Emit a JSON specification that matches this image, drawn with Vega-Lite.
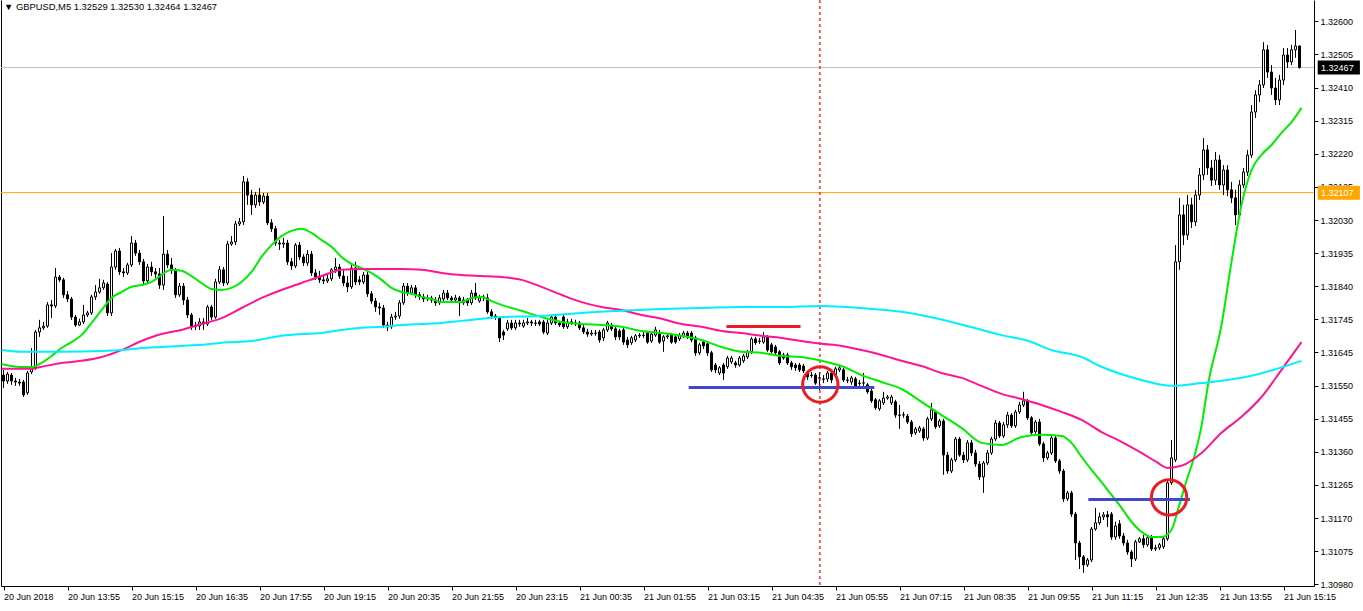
{
"$schema": "https://vega.github.io/schema/vega-lite/v6.json",
"width": 1313, "height": 586,
"autosize": "none",
"padding": {"left": 1, "top": 0, "right": 49, "bottom": 25},
"background": "white",
"title": {"text": "▼ GBPUSD,M5  1.32529 1.32530 1.32464 1.32467", "anchor": "start", "frame": "group", "offset": -13, "dx": 3, "fontSize": 9.4, "font": "Liberation Sans", "fontWeight": "normal", "color": "black"},
"config": {"view": {"stroke": null}, "font": "Liberation Sans",
  "axis": {"labelFont": "Liberation Sans", "labelFontSize": 9, "labelColor": "black", "domainColor": "black", "tickColor": "black", "grid": false}},
"datasets": {
"candles": [
{"i":0,"o":1.31582,"h":1.31597,"l":1.31545,"c":1.31565},{"i":1,"o":1.31565,"h":1.31591,"l":1.31557,"c":1.31585},{"i":2,"o":1.31582,"h":1.31588,"l":1.31554,"c":1.31565},{"i":3,"o":1.31565,"h":1.31574,"l":1.31551,"c":1.31562},{"i":4,"o":1.31562,"h":1.31571,"l":1.31551,"c":1.31559},
{"i":5,"o":1.31562,"h":1.31568,"l":1.31519,"c":1.31525},{"i":6,"o":1.31531,"h":1.31594,"l":1.31525,"c":1.31588},{"i":7,"o":1.31591,"h":1.31660,"l":1.31585,"c":1.31606},{"i":8,"o":1.31603,"h":1.31712,"l":1.31597,"c":1.31706},{"i":9,"o":1.31706,"h":1.31741,"l":1.31692,"c":1.31718},
{"i":10,"o":1.31718,"h":1.31735,"l":1.31712,"c":1.31723},{"i":11,"o":1.31723,"h":1.31792,"l":1.31718,"c":1.31784},{"i":12,"o":1.31784,"h":1.31798,"l":1.31746,"c":1.31781},{"i":13,"o":1.31781,"h":1.31890,"l":1.31775,"c":1.31864},{"i":14,"o":1.31864,"h":1.31870,"l":1.31850,"c":1.31856},
{"i":15,"o":1.31856,"h":1.31862,"l":1.31804,"c":1.31813},{"i":16,"o":1.31813,"h":1.31824,"l":1.31792,"c":1.31801},{"i":17,"o":1.31801,"h":1.31807,"l":1.31741,"c":1.31749},{"i":18,"o":1.31749,"h":1.31755,"l":1.31721,"c":1.31726},{"i":19,"o":1.31726,"h":1.31744,"l":1.31723,"c":1.31735},
{"i":20,"o":1.31735,"h":1.31784,"l":1.31729,"c":1.31755},{"i":21,"o":1.31755,"h":1.31767,"l":1.31749,"c":1.31761},{"i":22,"o":1.31761,"h":1.31813,"l":1.31755,"c":1.31807},{"i":23,"o":1.31807,"h":1.31841,"l":1.31798,"c":1.31821},{"i":24,"o":1.31821,"h":1.31859,"l":1.31816,"c":1.31833},
{"i":25,"o":1.31833,"h":1.31856,"l":1.31827,"c":1.31847},{"i":26,"o":1.31844,"h":1.31850,"l":1.31752,"c":1.31761},{"i":27,"o":1.31761,"h":1.31933,"l":1.31752,"c":1.31893},{"i":28,"o":1.31893,"h":1.31945,"l":1.31885,"c":1.31939},{"i":29,"o":1.31939,"h":1.31948,"l":1.31870,"c":1.31879},
{"i":30,"o":1.31879,"h":1.31890,"l":1.31864,"c":1.31876},{"i":31,"o":1.31876,"h":1.31905,"l":1.31870,"c":1.31899},{"i":32,"o":1.31899,"h":1.31982,"l":1.31893,"c":1.31962},{"i":33,"o":1.31962,"h":1.31971,"l":1.31925,"c":1.31933},{"i":34,"o":1.31933,"h":1.31942,"l":1.31899,"c":1.31908},
{"i":35,"o":1.31908,"h":1.31916,"l":1.31844,"c":1.31853},{"i":36,"o":1.31853,"h":1.31902,"l":1.31844,"c":1.31893},{"i":37,"o":1.31893,"h":1.31908,"l":1.31867,"c":1.31879},{"i":38,"o":1.31879,"h":1.31890,"l":1.31862,"c":1.31873},{"i":39,"o":1.31873,"h":1.31890,"l":1.31830,"c":1.31841},
{"i":40,"o":1.31841,"h":1.32040,"l":1.31827,"c":1.31930},{"i":41,"o":1.31930,"h":1.31942,"l":1.31890,"c":1.31899},{"i":42,"o":1.31899,"h":1.31919,"l":1.31873,"c":1.31885},{"i":43,"o":1.31885,"h":1.31890,"l":1.31804,"c":1.31813},{"i":44,"o":1.31813,"h":1.31847,"l":1.31807,"c":1.31838},
{"i":45,"o":1.31838,"h":1.31847,"l":1.31784,"c":1.31798},{"i":46,"o":1.31798,"h":1.31807,"l":1.31746,"c":1.31755},{"i":47,"o":1.31755,"h":1.31761,"l":1.31712,"c":1.31721},{"i":48,"o":1.31721,"h":1.31735,"l":1.31712,"c":1.31723},{"i":49,"o":1.31723,"h":1.31746,"l":1.31712,"c":1.31735},
{"i":50,"o":1.31735,"h":1.31746,"l":1.31712,"c":1.31729},{"i":51,"o":1.31729,"h":1.31784,"l":1.31723,"c":1.31778},{"i":52,"o":1.31778,"h":1.31784,"l":1.31741,"c":1.31749},{"i":53,"o":1.31749,"h":1.31859,"l":1.31744,"c":1.31850},{"i":54,"o":1.31850,"h":1.31896,"l":1.31844,"c":1.31885},
{"i":55,"o":1.31885,"h":1.31893,"l":1.31838,"c":1.31847},{"i":56,"o":1.31847,"h":1.31968,"l":1.31841,"c":1.31959},{"i":57,"o":1.31959,"h":1.31982,"l":1.31954,"c":1.31965},{"i":58,"o":1.31965,"h":1.32026,"l":1.31956,"c":1.32017},{"i":59,"o":1.32017,"h":1.32034,"l":1.32011,"c":1.32023},
{"i":60,"o":1.32023,"h":1.32155,"l":1.32014,"c":1.32138},{"i":61,"o":1.32138,"h":1.32149,"l":1.32072,"c":1.32100},{"i":62,"o":1.32100,"h":1.32115,"l":1.32043,"c":1.32072},{"i":63,"o":1.32072,"h":1.32109,"l":1.32063,"c":1.32100},{"i":64,"o":1.32100,"h":1.32120,"l":1.32069,"c":1.32080},
{"i":65,"o":1.32080,"h":1.32106,"l":1.32074,"c":1.32097},{"i":66,"o":1.32097,"h":1.32106,"l":1.32014,"c":1.32020},{"i":67,"o":1.32020,"h":1.32031,"l":1.31994,"c":1.32003},{"i":68,"o":1.32003,"h":1.32011,"l":1.31954,"c":1.31962},{"i":69,"o":1.31962,"h":1.31971,"l":1.31942,"c":1.31959},
{"i":70,"o":1.31959,"h":1.31977,"l":1.31948,"c":1.31962},{"i":71,"o":1.31962,"h":1.31971,"l":1.31899,"c":1.31908},{"i":72,"o":1.31908,"h":1.31919,"l":1.31885,"c":1.31896},{"i":73,"o":1.31896,"h":1.31962,"l":1.31890,"c":1.31956},{"i":74,"o":1.31956,"h":1.31965,"l":1.31913,"c":1.31922},
{"i":75,"o":1.31922,"h":1.31930,"l":1.31896,"c":1.31905},{"i":76,"o":1.31905,"h":1.31942,"l":1.31896,"c":1.31930},{"i":77,"o":1.31930,"h":1.31939,"l":1.31867,"c":1.31876},{"i":78,"o":1.31876,"h":1.31887,"l":1.31856,"c":1.31864},{"i":79,"o":1.31864,"h":1.31882,"l":1.31847,"c":1.31856},
{"i":80,"o":1.31856,"h":1.31867,"l":1.31844,"c":1.31853},{"i":81,"o":1.31853,"h":1.31870,"l":1.31847,"c":1.31859},{"i":82,"o":1.31859,"h":1.31890,"l":1.31853,"c":1.31885},{"i":83,"o":1.31885,"h":1.31919,"l":1.31876,"c":1.31893},{"i":84,"o":1.31893,"h":1.31902,"l":1.31859,"c":1.31867},
{"i":85,"o":1.31867,"h":1.31885,"l":1.31838,"c":1.31847},{"i":86,"o":1.31847,"h":1.31867,"l":1.31821,"c":1.31836},{"i":87,"o":1.31836,"h":1.31899,"l":1.31830,"c":1.31890},{"i":88,"o":1.31890,"h":1.31908,"l":1.31841,"c":1.31850},{"i":89,"o":1.31856,"h":1.31867,"l":1.31841,"c":1.31850},
{"i":90,"o":1.31850,"h":1.31879,"l":1.31844,"c":1.31870},{"i":91,"o":1.31870,"h":1.31879,"l":1.31807,"c":1.31816},{"i":92,"o":1.31816,"h":1.31824,"l":1.31787,"c":1.31795},{"i":93,"o":1.31795,"h":1.31804,"l":1.31764,"c":1.31778},{"i":94,"o":1.31778,"h":1.31790,"l":1.31755,"c":1.31775},
{"i":95,"o":1.31775,"h":1.31784,"l":1.31718,"c":1.31726},{"i":96,"o":1.31726,"h":1.31735,"l":1.31709,"c":1.31721},{"i":97,"o":1.31721,"h":1.31758,"l":1.31715,"c":1.31749},{"i":98,"o":1.31749,"h":1.31764,"l":1.31741,"c":1.31752},{"i":99,"o":1.31752,"h":1.31798,"l":1.31744,"c":1.31790},
{"i":100,"o":1.31790,"h":1.31847,"l":1.31784,"c":1.31838},{"i":101,"o":1.31838,"h":1.31847,"l":1.31810,"c":1.31818},{"i":102,"o":1.31818,"h":1.31841,"l":1.31813,"c":1.31833},{"i":103,"o":1.31833,"h":1.31841,"l":1.31804,"c":1.31813},{"i":104,"o":1.31813,"h":1.31821,"l":1.31798,"c":1.31807},
{"i":105,"o":1.31807,"h":1.31816,"l":1.31792,"c":1.31801},{"i":106,"o":1.31801,"h":1.31813,"l":1.31795,"c":1.31804},{"i":107,"o":1.31804,"h":1.31810,"l":1.31790,"c":1.31798},{"i":108,"o":1.31798,"h":1.31807,"l":1.31781,"c":1.31790},{"i":109,"o":1.31790,"h":1.31813,"l":1.31784,"c":1.31804},
{"i":110,"o":1.31801,"h":1.31827,"l":1.31795,"c":1.31818},{"i":111,"o":1.31818,"h":1.31827,"l":1.31798,"c":1.31804},{"i":112,"o":1.31804,"h":1.31810,"l":1.31790,"c":1.31798},{"i":113,"o":1.31798,"h":1.31813,"l":1.31792,"c":1.31804},{"i":114,"o":1.31804,"h":1.31810,"l":1.31752,"c":1.31790},
{"i":115,"o":1.31790,"h":1.31807,"l":1.31784,"c":1.31798},{"i":116,"o":1.31798,"h":1.31804,"l":1.31781,"c":1.31790},{"i":117,"o":1.31790,"h":1.31827,"l":1.31784,"c":1.31818},{"i":118,"o":1.31818,"h":1.31847,"l":1.31798,"c":1.31804},{"i":119,"o":1.31795,"h":1.31813,"l":1.31790,"c":1.31804},
{"i":120,"o":1.31804,"h":1.31813,"l":1.31795,"c":1.31807},{"i":121,"o":1.31804,"h":1.31816,"l":1.31758,"c":1.31764},{"i":122,"o":1.31764,"h":1.31772,"l":1.31744,"c":1.31752},{"i":123,"o":1.31752,"h":1.31758,"l":1.31741,"c":1.31749},{"i":124,"o":1.31746,"h":1.31752,"l":1.31677,"c":1.31689},
{"i":125,"o":1.31706,"h":1.31712,"l":1.31683,"c":1.31697},{"i":126,"o":1.31715,"h":1.31741,"l":1.31709,"c":1.31732},{"i":127,"o":1.31732,"h":1.31741,"l":1.31712,"c":1.31718},{"i":128,"o":1.31718,"h":1.31741,"l":1.31712,"c":1.31732},{"i":129,"o":1.31732,"h":1.31741,"l":1.31721,"c":1.31729},
{"i":130,"o":1.31723,"h":1.31741,"l":1.31718,"c":1.31732},{"i":131,"o":1.31732,"h":1.31746,"l":1.31726,"c":1.31735},{"i":132,"o":1.31735,"h":1.31741,"l":1.31723,"c":1.31732},{"i":133,"o":1.31732,"h":1.31741,"l":1.31723,"c":1.31731},{"i":134,"o":1.31735,"h":1.31741,"l":1.31723,"c":1.31729},
{"i":135,"o":1.31735,"h":1.31741,"l":1.31700,"c":1.31706},{"i":136,"o":1.31703,"h":1.31741,"l":1.31697,"c":1.31732},{"i":137,"o":1.31732,"h":1.31755,"l":1.31726,"c":1.31749},{"i":138,"o":1.31749,"h":1.31755,"l":1.31726,"c":1.31732},{"i":139,"o":1.31732,"h":1.31738,"l":1.31721,"c":1.31726},
{"i":140,"o":1.31749,"h":1.31755,"l":1.31715,"c":1.31721},{"i":141,"o":1.31721,"h":1.31744,"l":1.31715,"c":1.31735},{"i":142,"o":1.31735,"h":1.31744,"l":1.31726,"c":1.31732},{"i":143,"o":1.31732,"h":1.31741,"l":1.31723,"c":1.31731},{"i":144,"o":1.31732,"h":1.31738,"l":1.31712,"c":1.31718},
{"i":145,"o":1.31718,"h":1.31726,"l":1.31700,"c":1.31706},{"i":146,"o":1.31706,"h":1.31715,"l":1.31692,"c":1.31700},{"i":147,"o":1.31700,"h":1.31712,"l":1.31695,"c":1.31703},{"i":148,"o":1.31703,"h":1.31712,"l":1.31695,"c":1.31702},{"i":149,"o":1.31706,"h":1.31712,"l":1.31675,"c":1.31683},
{"i":150,"o":1.31689,"h":1.31718,"l":1.31680,"c":1.31712},{"i":151,"o":1.31712,"h":1.31738,"l":1.31706,"c":1.31732},{"i":152,"o":1.31726,"h":1.31732,"l":1.31709,"c":1.31715},{"i":153,"o":1.31715,"h":1.31721,"l":1.31683,"c":1.31692},{"i":154,"o":1.31709,"h":1.31715,"l":1.31683,"c":1.31692},
{"i":155,"o":1.31712,"h":1.31718,"l":1.31669,"c":1.31677},{"i":156,"o":1.31683,"h":1.31692,"l":1.31660,"c":1.31669},{"i":157,"o":1.31675,"h":1.31695,"l":1.31669,"c":1.31689},{"i":158,"o":1.31683,"h":1.31700,"l":1.31677,"c":1.31695},{"i":159,"o":1.31695,"h":1.31703,"l":1.31689,"c":1.31697},
{"i":160,"o":1.31697,"h":1.31706,"l":1.31689,"c":1.31696},{"i":161,"o":1.31703,"h":1.31709,"l":1.31672,"c":1.31677},{"i":162,"o":1.31680,"h":1.31706,"l":1.31675,"c":1.31700},{"i":163,"o":1.31697,"h":1.31721,"l":1.31692,"c":1.31712},{"i":164,"o":1.31703,"h":1.31712,"l":1.31672,"c":1.31677},
{"i":165,"o":1.31680,"h":1.31697,"l":1.31649,"c":1.31692},{"i":166,"o":1.31692,"h":1.31700,"l":1.31686,"c":1.31695},{"i":167,"o":1.31697,"h":1.31703,"l":1.31672,"c":1.31677},{"i":168,"o":1.31692,"h":1.31697,"l":1.31672,"c":1.31677},{"i":169,"o":1.31686,"h":1.31703,"l":1.31680,"c":1.31697},
{"i":170,"o":1.31695,"h":1.31709,"l":1.31689,"c":1.31703},{"i":171,"o":1.31703,"h":1.31709,"l":1.31686,"c":1.31692},{"i":172,"o":1.31703,"h":1.31709,"l":1.31677,"c":1.31683},{"i":173,"o":1.31689,"h":1.31695,"l":1.31637,"c":1.31646},{"i":174,"o":1.31646,"h":1.31675,"l":1.31640,"c":1.31669},
{"i":175,"o":1.31677,"h":1.31683,"l":1.31657,"c":1.31666},{"i":176,"o":1.31672,"h":1.31677,"l":1.31637,"c":1.31646},{"i":177,"o":1.31646,"h":1.31652,"l":1.31591,"c":1.31597},{"i":178,"o":1.31611,"h":1.31617,"l":1.31588,"c":1.31597},{"i":179,"o":1.31588,"h":1.31608,"l":1.31582,"c":1.31603},
{"i":180,"o":1.31611,"h":1.31617,"l":1.31568,"c":1.31588},{"i":181,"o":1.31606,"h":1.31637,"l":1.31600,"c":1.31631},{"i":182,"o":1.31620,"h":1.31637,"l":1.31614,"c":1.31631},{"i":183,"o":1.31617,"h":1.31623,"l":1.31603,"c":1.31611},{"i":184,"o":1.31611,"h":1.31637,"l":1.31606,"c":1.31631},
{"i":185,"o":1.31623,"h":1.31643,"l":1.31617,"c":1.31637},{"i":186,"o":1.31634,"h":1.31654,"l":1.31628,"c":1.31649},{"i":187,"o":1.31649,"h":1.31692,"l":1.31643,"c":1.31686},{"i":188,"o":1.31686,"h":1.31692,"l":1.31669,"c":1.31675},{"i":189,"o":1.31680,"h":1.31689,"l":1.31672,"c":1.31679},
{"i":190,"o":1.31677,"h":1.31706,"l":1.31672,"c":1.31692},{"i":191,"o":1.31692,"h":1.31697,"l":1.31649,"c":1.31654},{"i":192,"o":1.31669,"h":1.31675,"l":1.31643,"c":1.31649},{"i":193,"o":1.31663,"h":1.31669,"l":1.31640,"c":1.31646},{"i":194,"o":1.31649,"h":1.31654,"l":1.31611,"c":1.31617},
{"i":195,"o":1.31640,"h":1.31646,"l":1.31626,"c":1.31631},{"i":196,"o":1.31640,"h":1.31646,"l":1.31611,"c":1.31617},{"i":197,"o":1.31617,"h":1.31623,"l":1.31597,"c":1.31606},{"i":198,"o":1.31611,"h":1.31617,"l":1.31594,"c":1.31603},{"i":199,"o":1.31611,"h":1.31617,"l":1.31591,"c":1.31597},
{"i":200,"o":1.31608,"h":1.31614,"l":1.31588,"c":1.31594},{"i":201,"o":1.31588,"h":1.31594,"l":1.31568,"c":1.31577},{"i":202,"o":1.31582,"h":1.31591,"l":1.31574,"c":1.31581},{"i":203,"o":1.31582,"h":1.31588,"l":1.31554,"c":1.31559},{"i":204,"o":1.31574,"h":1.31591,"l":1.31539,"c":1.31573},
{"i":205,"o":1.31571,"h":1.31582,"l":1.31559,"c":1.31570},{"i":206,"o":1.31571,"h":1.31594,"l":1.31562,"c":1.31588},{"i":207,"o":1.31588,"h":1.31597,"l":1.31559,"c":1.31568},{"i":208,"o":1.31582,"h":1.31606,"l":1.31574,"c":1.31600},{"i":209,"o":1.31597,"h":1.31608,"l":1.31591,"c":1.31603},
{"i":210,"o":1.31597,"h":1.31603,"l":1.31562,"c":1.31568},{"i":211,"o":1.31568,"h":1.31577,"l":1.31559,"c":1.31567},{"i":212,"o":1.31562,"h":1.31580,"l":1.31554,"c":1.31574},{"i":213,"o":1.31571,"h":1.31577,"l":1.31542,"c":1.31548},{"i":214,"o":1.31559,"h":1.31568,"l":1.31551,"c":1.31558},
{"i":215,"o":1.31559,"h":1.31588,"l":1.31551,"c":1.31560},{"i":216,"o":1.31554,"h":1.31559,"l":1.31528,"c":1.31534},{"i":217,"o":1.31536,"h":1.31542,"l":1.31502,"c":1.31508},{"i":218,"o":1.31511,"h":1.31516,"l":1.31482,"c":1.31488},{"i":219,"o":1.31485,"h":1.31513,"l":1.31479,"c":1.31508},
{"i":220,"o":1.31502,"h":1.31534,"l":1.31496,"c":1.31516},{"i":221,"o":1.31516,"h":1.31525,"l":1.31511,"c":1.31519},{"i":222,"o":1.31502,"h":1.31525,"l":1.31496,"c":1.31519},{"i":223,"o":1.31505,"h":1.31511,"l":1.31459,"c":1.31467},{"i":224,"o":1.31467,"h":1.31496,"l":1.31427,"c":1.31466},
{"i":225,"o":1.31467,"h":1.31476,"l":1.31459,"c":1.31468},{"i":226,"o":1.31464,"h":1.31470,"l":1.31441,"c":1.31447},{"i":227,"o":1.31447,"h":1.31453,"l":1.31404,"c":1.31413},{"i":228,"o":1.31416,"h":1.31433,"l":1.31410,"c":1.31427},{"i":229,"o":1.31421,"h":1.31436,"l":1.31416,"c":1.31430},
{"i":230,"o":1.31427,"h":1.31433,"l":1.31393,"c":1.31401},{"i":231,"o":1.31401,"h":1.31462,"l":1.31395,"c":1.31456},{"i":232,"o":1.31456,"h":1.31502,"l":1.31450,"c":1.31482},{"i":233,"o":1.31476,"h":1.31482,"l":1.31427,"c":1.31433},{"i":234,"o":1.31436,"h":1.31456,"l":1.31430,"c":1.31450},
{"i":235,"o":1.31450,"h":1.31456,"l":1.31295,"c":1.31352},{"i":236,"o":1.31352,"h":1.31361,"l":1.31298,"c":1.31306},{"i":237,"o":1.31306,"h":1.31344,"l":1.31300,"c":1.31338},{"i":238,"o":1.31338,"h":1.31404,"l":1.31332,"c":1.31398},{"i":239,"o":1.31398,"h":1.31404,"l":1.31347,"c":1.31352},
{"i":240,"o":1.31352,"h":1.31361,"l":1.31329,"c":1.31338},{"i":241,"o":1.31338,"h":1.31395,"l":1.31332,"c":1.31387},{"i":242,"o":1.31387,"h":1.31395,"l":1.31349,"c":1.31358},{"i":243,"o":1.31358,"h":1.31367,"l":1.31318,"c":1.31326},{"i":244,"o":1.31326,"h":1.31335,"l":1.31280,"c":1.31289},
{"i":245,"o":1.31289,"h":1.31335,"l":1.31243,"c":1.31329},{"i":246,"o":1.31329,"h":1.31367,"l":1.31323,"c":1.31358},{"i":247,"o":1.31358,"h":1.31404,"l":1.31352,"c":1.31398},{"i":248,"o":1.31398,"h":1.31453,"l":1.31392,"c":1.31444},{"i":249,"o":1.31444,"h":1.31450,"l":1.31401,"c":1.31407},
{"i":250,"o":1.31407,"h":1.31447,"l":1.31401,"c":1.31439},{"i":251,"o":1.31439,"h":1.31476,"l":1.31430,"c":1.31467},{"i":252,"o":1.31467,"h":1.31473,"l":1.31430,"c":1.31436},{"i":253,"o":1.31436,"h":1.31482,"l":1.31430,"c":1.31476},{"i":254,"o":1.31476,"h":1.31505,"l":1.31470,"c":1.31496},
{"i":255,"o":1.31496,"h":1.31534,"l":1.31490,"c":1.31508},{"i":256,"o":1.31508,"h":1.31513,"l":1.31453,"c":1.31459},{"i":257,"o":1.31459,"h":1.31464,"l":1.31410,"c":1.31416},{"i":258,"o":1.31419,"h":1.31453,"l":1.31413,"c":1.31447},{"i":259,"o":1.31447,"h":1.31456,"l":1.31378,"c":1.31384},
{"i":260,"o":1.31384,"h":1.31390,"l":1.31332,"c":1.31344},{"i":261,"o":1.31344,"h":1.31364,"l":1.31338,"c":1.31358},{"i":262,"o":1.31358,"h":1.31407,"l":1.31352,"c":1.31401},{"i":263,"o":1.31401,"h":1.31407,"l":1.31329,"c":1.31335},{"i":264,"o":1.31335,"h":1.31341,"l":1.31298,"c":1.31306},
{"i":265,"o":1.31306,"h":1.31312,"l":1.31217,"c":1.31226},{"i":266,"o":1.31226,"h":1.31249,"l":1.31220,"c":1.31243},{"i":267,"o":1.31243,"h":1.31249,"l":1.31174,"c":1.31182},{"i":268,"o":1.31182,"h":1.31188,"l":1.31050,"c":1.31099},{"i":269,"o":1.31099,"h":1.31105,"l":1.31024,"c":1.31059},
{"i":270,"o":1.31059,"h":1.31064,"l":1.31013,"c":1.31036},{"i":271,"o":1.31036,"h":1.31056,"l":1.31030,"c":1.31050},{"i":272,"o":1.31050,"h":1.31145,"l":1.31044,"c":1.31139},{"i":273,"o":1.31139,"h":1.31200,"l":1.31134,"c":1.31157},{"i":274,"o":1.31157,"h":1.31186,"l":1.31151,"c":1.31174},
{"i":275,"o":1.31174,"h":1.31188,"l":1.31165,"c":1.31180},{"i":276,"o":1.31180,"h":1.31191,"l":1.31145,"c":1.31174},{"i":277,"o":1.31182,"h":1.31188,"l":1.31108,"c":1.31116},{"i":278,"o":1.31116,"h":1.31160,"l":1.31108,"c":1.31148},{"i":279,"o":1.31154,"h":1.31165,"l":1.31111,"c":1.31119},
{"i":280,"o":1.31119,"h":1.31128,"l":1.31091,"c":1.31099},{"i":281,"o":1.31099,"h":1.31108,"l":1.31065,"c":1.31073},{"i":282,"o":1.31073,"h":1.31079,"l":1.31030,"c":1.31053},{"i":283,"o":1.31053,"h":1.31108,"l":1.31047,"c":1.31102},{"i":284,"o":1.31102,"h":1.31116,"l":1.31099,"c":1.31111},
{"i":285,"o":1.31111,"h":1.31122,"l":1.31085,"c":1.31094},{"i":286,"o":1.31094,"h":1.31119,"l":1.31088,"c":1.31114},{"i":287,"o":1.31114,"h":1.31122,"l":1.31076,"c":1.31082},{"i":288,"o":1.31082,"h":1.31094,"l":1.31076,"c":1.31085},{"i":289,"o":1.31085,"h":1.31099,"l":1.31079,"c":1.31094},
{"i":290,"o":1.31088,"h":1.31116,"l":1.31082,"c":1.31111},{"i":291,"o":1.31111,"h":1.31280,"l":1.31105,"c":1.31272},{"i":292,"o":1.31272,"h":1.31395,"l":1.31266,"c":1.31344},{"i":293,"o":1.31338,"h":1.31956,"l":1.31332,"c":1.31908},{"i":294,"o":1.31908,"h":1.32092,"l":1.31885,"c":1.32043},
{"i":295,"o":1.32043,"h":1.32072,"l":1.31956,"c":1.31985},{"i":296,"o":1.31985,"h":1.32100,"l":1.31971,"c":1.32072},{"i":297,"o":1.32072,"h":1.32092,"l":1.32005,"c":1.32023},{"i":298,"o":1.32023,"h":1.32115,"l":1.32011,"c":1.32100},{"i":299,"o":1.32100,"h":1.32178,"l":1.32086,"c":1.32158},
{"i":300,"o":1.32158,"h":1.32264,"l":1.32143,"c":1.32230},{"i":301,"o":1.32230,"h":1.32244,"l":1.32158,"c":1.32178},{"i":302,"o":1.32178,"h":1.32201,"l":1.32126,"c":1.32143},{"i":303,"o":1.32143,"h":1.32224,"l":1.32129,"c":1.32201},{"i":304,"o":1.32201,"h":1.32215,"l":1.32115,"c":1.32129},
{"i":305,"o":1.32129,"h":1.32186,"l":1.32100,"c":1.32172},{"i":306,"o":1.32172,"h":1.32186,"l":1.32097,"c":1.32115},{"i":307,"o":1.32115,"h":1.32138,"l":1.32077,"c":1.32092},{"i":308,"o":1.32092,"h":1.32115,"l":1.32014,"c":1.32043},{"i":309,"o":1.32043,"h":1.32143,"l":1.32034,"c":1.32129},
{"i":310,"o":1.32129,"h":1.32178,"l":1.32120,"c":1.32166},{"i":311,"o":1.32166,"h":1.32230,"l":1.32155,"c":1.32215},{"i":312,"o":1.32215,"h":1.32359,"l":1.32207,"c":1.32339},{"i":313,"o":1.32339,"h":1.32402,"l":1.32322,"c":1.32388},{"i":314,"o":1.32388,"h":1.32431,"l":1.32368,"c":1.32417},
{"i":315,"o":1.32417,"h":1.32540,"l":1.32408,"c":1.32518},{"i":316,"o":1.32518,"h":1.32532,"l":1.32437,"c":1.32454},{"i":317,"o":1.32454,"h":1.32474,"l":1.32388,"c":1.32408},{"i":318,"o":1.32408,"h":1.32437,"l":1.32359,"c":1.32374},{"i":319,"o":1.32374,"h":1.32446,"l":1.32359,"c":1.32431},
{"i":320,"o":1.32431,"h":1.32523,"l":1.32417,"c":1.32503},{"i":321,"o":1.32503,"h":1.32523,"l":1.32466,"c":1.32483},{"i":322,"o":1.32483,"h":1.32532,"l":1.32474,"c":1.32518},{"i":323,"o":1.32518,"h":1.32575,"l":1.32495,"c":1.32529},{"i":324,"o":1.32529,"h":1.32530,"l":1.32464,"c":1.32467}
],
"ma": [
{"s":"g","i":-0.5,"p":1.31614},{"s":"g","i":2,"p":1.31608},{"s":"g","i":4.5,"p":1.31605},{"s":"g","i":7,"p":1.31605},{"s":"g","i":9.5,"p":1.31617},{"s":"g","i":12,"p":1.31637},{"s":"g","i":14.5,"p":1.31660},{"s":"g","i":17,"p":1.31677},{"s":"g","i":19.5,"p":1.31697},{"s":"g","i":22,"p":1.31732},{"s":"g","i":24.5,"p":1.31769},{"s":"g","i":27,"p":1.31804},{"s":"g","i":29.5,"p":1.31821},{"s":"g","i":32,"p":1.31836},{"s":"g","i":34.5,"p":1.31841},{"s":"g","i":37,"p":1.31850},{"s":"g","i":39.5,"p":1.31870},{"s":"g","i":42,"p":1.31885},{"s":"g","i":44.5,"p":1.31882},{"s":"g","i":47,"p":1.31867},{"s":"g","i":49.5,"p":1.31847},{"s":"g","i":52,"p":1.31830},{"s":"g","i":54.5,"p":1.31827},{"s":"g","i":57,"p":1.31833},{"s":"g","i":59.5,"p":1.31850},{"s":"g","i":62,"p":1.31879},{"s":"g","i":64.5,"p":1.31922},{"s":"g","i":67,"p":1.31956},{"s":"g","i":69.5,"p":1.31982},{"s":"g","i":72,"p":1.31997},{"s":"g","i":74.5,"p":1.32003},{"s":"g","i":77,"p":1.31991},{"s":"g","i":79.5,"p":1.31971},{"s":"g","i":82,"p":1.31951},{"s":"g","i":84.5,"p":1.31922},{"s":"g","i":87,"p":1.31902},{"s":"g","i":89.5,"p":1.31890},{"s":"g","i":92,"p":1.31876},{"s":"g","i":94.5,"p":1.31856},{"s":"g","i":97,"p":1.31833},{"s":"g","i":99.5,"p":1.31821},{"s":"g","i":102,"p":1.31816},{"s":"g","i":104.5,"p":1.31807},{"s":"g","i":107,"p":1.31801},{"s":"g","i":109.5,"p":1.31792},{"s":"g","i":112,"p":1.31792},{"s":"g","i":114.5,"p":1.31792},{"s":"g","i":117,"p":1.31804},{"s":"g","i":119.5,"p":1.31807},{"s":"g","i":122,"p":1.31795},{"s":"g","i":124.5,"p":1.31784},{"s":"g","i":129.5,"p":1.31767},{"s":"g","i":134.5,"p":1.31749},{"s":"g","i":139.5,"p":1.31735},{"s":"g","i":144.5,"p":1.31729},{"s":"g","i":149.5,"p":1.31726},{"s":"g","i":154.5,"p":1.31721},{"s":"g","i":159.5,"p":1.31709},{"s":"g","i":164.5,"p":1.31703},{"s":"g","i":169.5,"p":1.31695},{"s":"g","i":174.5,"p":1.31683},{"s":"g","i":179.5,"p":1.31663},{"s":"g","i":184.5,"p":1.31649},{"s":"g","i":189.5,"p":1.31646},{"s":"g","i":194.5,"p":1.31637},{"s":"g","i":199.5,"p":1.31634},{"s":"g","i":204.5,"p":1.31623},{"s":"g","i":209.5,"p":1.31608},{"s":"g","i":214.5,"p":1.31582},{"s":"g","i":219.5,"p":1.31562},{"s":"g","i":224.5,"p":1.31542},{"s":"g","i":229.5,"p":1.31505},{"s":"g","i":234.5,"p":1.31467},{"s":"g","i":239.5,"p":1.31430},{"s":"g","i":244.5,"p":1.31387},{"s":"g","i":249.5,"p":1.31381},{"s":"g","i":254.5,"p":1.31404},{"s":"g","i":259.5,"p":1.31410},{"s":"g","i":264.5,"p":1.31407},{"s":"g","i":267,"p":1.31387},{"s":"g","i":269.5,"p":1.31347},{"s":"g","i":272,"p":1.31309},{"s":"g","i":274.5,"p":1.31274},{"s":"g","i":277,"p":1.31237},{"s":"g","i":279.5,"p":1.31200},{"s":"g","i":282,"p":1.31160},{"s":"g","i":284.5,"p":1.31131},{"s":"g","i":287,"p":1.31116},{"s":"g","i":289.5,"p":1.31116},{"s":"g","i":292,"p":1.31137},{"s":"g","i":293.75,"p":1.31200},{"s":"g","i":295.75,"p":1.31278},{"s":"g","i":297.75,"p":1.31350},{"s":"g","i":299.5,"p":1.31436},{"s":"g","i":301.25,"p":1.31562},{"s":"g","i":304.5,"p":1.31726},{"s":"g","i":307,"p":1.31908},{"s":"g","i":309.5,"p":1.32072},{"s":"g","i":312,"p":1.32172},{"s":"g","i":314.5,"p":1.32216},{"s":"g","i":317,"p":1.32244},{"s":"g","i":319.5,"p":1.32279},{"s":"g","i":322,"p":1.32310},{"s":"g","i":324.5,"p":1.32351},
{"s":"m","i":-0.5,"p":1.31600},{"s":"m","i":7,"p":1.31600},{"s":"m","i":9.5,"p":1.31606},{"s":"m","i":14.5,"p":1.31617},{"s":"m","i":19.5,"p":1.31623},{"s":"m","i":24.5,"p":1.31634},{"s":"m","i":29.5,"p":1.31654},{"s":"m","i":34.5,"p":1.31680},{"s":"m","i":39.5,"p":1.31700},{"s":"m","i":44.5,"p":1.31712},{"s":"m","i":49.5,"p":1.31729},{"s":"m","i":54.5,"p":1.31746},{"s":"m","i":59.5,"p":1.31775},{"s":"m","i":64.5,"p":1.31804},{"s":"m","i":69.5,"p":1.31827},{"s":"m","i":74.5,"p":1.31847},{"s":"m","i":79.5,"p":1.31867},{"s":"m","i":84.5,"p":1.31885},{"s":"m","i":89.5,"p":1.31887},{"s":"m","i":94.5,"p":1.31887},{"s":"m","i":99.5,"p":1.31887},{"s":"m","i":104.5,"p":1.31885},{"s":"m","i":109.5,"p":1.31876},{"s":"m","i":114.5,"p":1.31870},{"s":"m","i":119.5,"p":1.31867},{"s":"m","i":124.5,"p":1.31864},{"s":"m","i":129.5,"p":1.31856},{"s":"m","i":134.5,"p":1.31836},{"s":"m","i":139.5,"p":1.31813},{"s":"m","i":144.5,"p":1.31792},{"s":"m","i":149.5,"p":1.31778},{"s":"m","i":154.5,"p":1.31769},{"s":"m","i":159.5,"p":1.31755},{"s":"m","i":164.5,"p":1.31744},{"s":"m","i":169.5,"p":1.31729},{"s":"m","i":174.5,"p":1.31721},{"s":"m","i":179.5,"p":1.31709},{"s":"m","i":184.5,"p":1.31703},{"s":"m","i":189.5,"p":1.31695},{"s":"m","i":194.5,"p":1.31689},{"s":"m","i":199.5,"p":1.31680},{"s":"m","i":204.5,"p":1.31672},{"s":"m","i":209.5,"p":1.31666},{"s":"m","i":214.5,"p":1.31654},{"s":"m","i":219.5,"p":1.31640},{"s":"m","i":224.5,"p":1.31623},{"s":"m","i":229.5,"p":1.31608},{"s":"m","i":234.5,"p":1.31588},{"s":"m","i":239.5,"p":1.31574},{"s":"m","i":244.5,"p":1.31551},{"s":"m","i":249.5,"p":1.31528},{"s":"m","i":254.5,"p":1.31513},{"s":"m","i":259.5,"p":1.31496},{"s":"m","i":264.5,"p":1.31476},{"s":"m","i":269.5,"p":1.31453},{"s":"m","i":274.5,"p":1.31418},{"s":"m","i":279.5,"p":1.31390},{"s":"m","i":284.5,"p":1.31358},{"s":"m","i":288.25,"p":1.31332},{"s":"m","i":291,"p":1.31315},{"s":"m","i":294.5,"p":1.31321},{"s":"m","i":299.5,"p":1.31358},{"s":"m","i":304.5,"p":1.31416},{"s":"m","i":309.5,"p":1.31462},{"s":"m","i":314.5,"p":1.31519},{"s":"m","i":319.5,"p":1.31597},{"s":"m","i":324.5,"p":1.31677},
{"s":"c","i":-0.5,"p":1.31654},{"s":"c","i":4.5,"p":1.31649},{"s":"c","i":14.5,"p":1.31649},{"s":"c","i":24.5,"p":1.31651},{"s":"c","i":29.5,"p":1.31654},{"s":"c","i":34.5,"p":1.31660},{"s":"c","i":39.5,"p":1.31663},{"s":"c","i":44.5,"p":1.31666},{"s":"c","i":49.5,"p":1.31669},{"s":"c","i":54.5,"p":1.31675},{"s":"c","i":62,"p":1.31680},{"s":"c","i":69.5,"p":1.31695},{"s":"c","i":74.5,"p":1.31700},{"s":"c","i":79.5,"p":1.31703},{"s":"c","i":84.5,"p":1.31712},{"s":"c","i":89.5,"p":1.31718},{"s":"c","i":94.5,"p":1.31721},{"s":"c","i":99.5,"p":1.31726},{"s":"c","i":104.5,"p":1.31729},{"s":"c","i":109.5,"p":1.31732},{"s":"c","i":114.5,"p":1.31738},{"s":"c","i":119.5,"p":1.31744},{"s":"c","i":124.5,"p":1.31749},{"s":"c","i":134.5,"p":1.31752},{"s":"c","i":144.5,"p":1.31761},{"s":"c","i":154.5,"p":1.31767},{"s":"c","i":164.5,"p":1.31772},{"s":"c","i":174.5,"p":1.31775},{"s":"c","i":184.5,"p":1.31778},{"s":"c","i":194.5,"p":1.31778},{"s":"c","i":204.5,"p":1.31781},{"s":"c","i":214.5,"p":1.31775},{"s":"c","i":224.5,"p":1.31764},{"s":"c","i":237,"p":1.31735},{"s":"c","i":249.5,"p":1.31697},{"s":"c","i":256.25,"p":1.31680},{"s":"c","i":262,"p":1.31654},{"s":"c","i":269.5,"p":1.31634},{"s":"c","i":274.5,"p":1.31606},{"s":"c","i":284.5,"p":1.31568},{"s":"c","i":292,"p":1.31551},{"s":"c","i":299.5,"p":1.31559},{"s":"c","i":312,"p":1.31580},{"s":"c","i":324.5,"p":1.31623}
]
},
"resolve": {"axis": {"x": "independent", "y": "independent"}, "scale": {"color": "independent"}},
"layer": [
{"data": {"values": [{"p": 1.32467}]}, "mark": {"type": "rule", "color": "#C0C0C0", "strokeWidth": 1},
 "encoding": {"y": {"field": "p", "type": "quantitative", "scale": {"domain": [1.309751, 1.326613], "nice": false, "zero": false, "padding": 0}, "axis": null}}},
{"data": {"values": [{"p": 1.32107}]}, "mark": {"type": "rule", "color": "#FFA500", "strokeWidth": 1},
 "encoding": {"y": {"field": "p", "type": "quantitative", "scale": {"domain": [1.309751, 1.326613], "nice": false, "zero": false, "padding": 0}, "axis": null}}},
{"data": {"name": "candles"}, "mark": {"type": "rule", "color": "black", "strokeWidth": 1},
 "encoding": {
  "x": {"field": "i", "type": "quantitative", "scale": {"domain": [-0.625, 327.625], "nice": false, "zero": false, "padding": 0},
    "axis": {"orient": "bottom", "title": null, "values": [0,16,32,48,64,80,96,112,128,144,160,176,192,208,224,240,256,272,288,304,320], "labelAlign": "left", "labelPadding": 2, "tickSize": 4, "labelOverlap": false, "labelFlush": false, "labelBound": false,
      "labelExpr": "['20 Jun 2018','20 Jun 13:55','20 Jun 15:15','20 Jun 16:35','20 Jun 17:55','20 Jun 19:15','20 Jun 20:35','20 Jun 21:55','20 Jun 23:15','21 Jun 00:35','21 Jun 01:55','21 Jun 03:15','21 Jun 04:35','21 Jun 05:55','21 Jun 07:15','21 Jun 08:35','21 Jun 09:55','21 Jun 11:15','21 Jun 12:35','21 Jun 13:55','21 Jun 15:15'][round(datum.value/16)]"}},
  "y": {"field": "l", "type": "quantitative", "scale": {"domain": [1.309751, 1.326613], "nice": false, "zero": false, "padding": 0},
    "axis": {"orient": "left", "title": null, "labels": false, "ticks": false, "domain": true}},
  "y2": {"field": "h"}}},
{"data": {"name": "candles"}, "mark": {"type": "bar", "width": 2, "stroke": "black", "strokeWidth": 1},
 "encoding": {
  "x": {"field": "i", "type": "quantitative", "scale": {"domain": [-0.625, 327.625], "nice": false, "zero": false, "padding": 0}, "axis": null},
  "y": {"field": "o", "type": "quantitative", "scale": {"domain": [1.309751, 1.326613], "nice": false, "zero": false, "padding": 0},
    "axis": {"orient": "right", "title": null, "values": [1.3098,1.310753,1.311706,1.312659,1.313612,1.314565,1.315518,1.316471,1.317424,1.318376,1.319329,1.320282,1.321235,1.322188,1.323141,1.324094,1.325047,1.326], "tickSize": 4, "labelPadding": 2, "labelOverlap": false, "labelFlush": false, "labelBaseline": "middle",
      "labelExpr": "['1.30980','1.31075','1.31170','1.31265','1.31360','1.31455','1.31550','1.31645','1.31745','1.31840','1.31935','1.32030','1.32125','1.32220','1.32315','1.32410','1.32505','1.32600'][round((datum.value-1.3098)/0.000952941)]"}},
  "y2": {"field": "c"},
  "fill": {"condition": {"test": "datum.c < datum.o", "value": "#000000"}, "value": "#FFFFFF"}}},
{"data": {"values": [{"i": 204.1}]}, "mark": {"type": "rule", "color": "#FF0000", "stroke": "#FF0000", "strokeWidth": 1.2, "strokeDash": [3, 3], "opacity": 1},
 "encoding": {"x": {"field": "i", "type": "quantitative", "scale": {"domain": [-0.625, 327.625], "nice": false, "zero": false, "padding": 0}, "axis": null}}},
{"data": {"name": "ma"}, "mark": {"type": "line", "strokeWidth": 2, "interpolate": "monotone"},
 "encoding": {
  "x": {"field": "i", "type": "quantitative", "scale": {"domain": [-0.625, 327.625], "nice": false, "zero": false, "padding": 0}, "axis": null},
  "y": {"field": "p", "type": "quantitative", "scale": {"domain": [1.309751, 1.326613], "nice": false, "zero": false, "padding": 0}, "axis": null},
  "color": {"field": "s", "type": "nominal", "scale": {"domain": ["g", "m", "c"], "range": ["#00EE00", "#FF1493", "#00F0FF"]}, "legend": null}}},
{"data": {"values": [{"a": 180.75, "b": 199.25, "p": 1.31722, "k": "r"}, {"a": 171.3, "b": 217.7, "p": 1.31546, "k": "b"}, {"a": 271.2, "b": 296.6, "p": 1.31224, "k": "b"}]},
 "mark": {"type": "rule", "strokeWidth": 3},
 "encoding": {
  "x": {"field": "a", "type": "quantitative", "scale": {"domain": [-0.625, 327.625], "nice": false, "zero": false, "padding": 0}, "axis": null},
  "x2": {"field": "b"},
  "y": {"field": "p", "type": "quantitative", "scale": {"domain": [1.309751, 1.326613], "nice": false, "zero": false, "padding": 0}, "axis": null},
  "color": {"field": "k", "type": "nominal", "scale": {"domain": ["r", "b"], "range": ["#ED1C24", "#3F48CC"]}, "legend": null}}},
{"data": {"values": [{"i": 204.2, "p": 1.31555}, {"i": 291.4, "p": 1.31230}]},
 "mark": {"type": "point", "shape": "circle", "size": 1250, "filled": false, "stroke": "#ED1C24", "strokeWidth": 3, "opacity": 1},
 "encoding": {
  "x": {"field": "i", "type": "quantitative", "scale": {"domain": [-0.625, 327.625], "nice": false, "zero": false, "padding": 0}, "axis": null},
  "y": {"field": "p", "type": "quantitative", "scale": {"domain": [1.309751, 1.326613], "nice": false, "zero": false, "padding": 0}, "axis": null}}},
{"data": {"values": [{"p": 1.32467, "t": "1.32467"}, {"p": 1.32107, "t": "1.32107"}]},
 "mark": {"type": "bar", "height": 14},
 "encoding": {
  "x": {"datum": 328.55, "type": "quantitative", "scale": {"domain": [-0.625, 327.625], "nice": false, "zero": false, "padding": 0}, "axis": null},
  "x2": {"datum": 339.1},
  "y": {"field": "p", "type": "quantitative", "scale": {"domain": [1.309751, 1.326613], "nice": false, "zero": false, "padding": 0}, "axis": null},
  "color": {"field": "t", "type": "nominal", "scale": {"domain": ["1.32467", "1.32107"], "range": ["#000000", "#FFA500"]}, "legend": null}}},
{"data": {"values": [{"p": 1.32467, "t": "1.32467"}, {"p": 1.32107, "t": "1.32107"}]},
 "mark": {"type": "text", "align": "left", "baseline": "middle", "dx": 2, "fontSize": 9, "font": "Liberation Sans", "color": "white"},
 "encoding": {
  "x": {"datum": 328.9, "type": "quantitative", "scale": {"domain": [-0.625, 327.625], "nice": false, "zero": false, "padding": 0}, "axis": null},
  "y": {"field": "p", "type": "quantitative", "scale": {"domain": [1.309751, 1.326613], "nice": false, "zero": false, "padding": 0}, "axis": null},
  "text": {"field": "t"}}}
]
}
